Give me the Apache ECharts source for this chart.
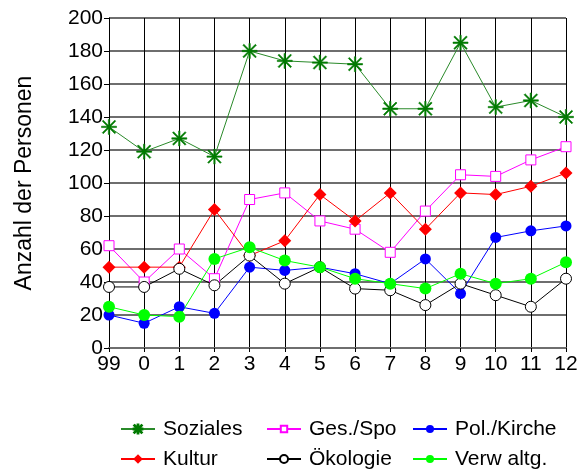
<!DOCTYPE html>
<html>
<head>
<meta charset="utf-8">
<script src="https://cdn.jsdelivr.net/npm/echarts@6/dist/echarts.min.js"></script>
<style>
  html, body { margin: 0; padding: 0; background: #fff; }
  #chart { width: 588px; height: 470px; }
</style>
</head>
<body>
<div id="chart"></div>
<script>
// Survey years (two-digit) on the x axis
const years = ['99', '0', '1', '2', '3', '4', '5', '6', '7', '8', '9', '10', '11', '12'];

// Number of persons per field of engagement
const soziales   = [134, 119, 127, 116, 180, 174, 173, 172, 145, 145, 185, 146, 150, 140];
const gesSpo     = [62, 40, 60, 42, 90, 94, 77, 72, 58, 83, 105, 104, 114, 122];
const polKirche  = [20, 15, 25, 21, 49, 47, 49, 45, 39, 54, 33, 67, 71, 74];
const kultur     = [49, 49, 49, 84, 56, 65, 93, 77, 94, 72, 94, 93, 98, 106];
const oekologie  = [37, 37, 48, 38, 56, 39, 49, 36, 35, 26, 39, 32, 25, 42];
const verwaltung = [25, 20, 19, 54, 61, 53, 49, 42, 39, 36, 45, 39, 42, 52];

const yTicks = { min: 0, max: 200, step: 20 };

const FONT = 'Liberation Sans, Arial, sans-serif';

// Asterisk marker built from four thin bars
const asterisk = 'path://M0 9.1L20 9.1L20 10.9L0 10.9Z M9.1 0L10.9 0L10.9 20L9.1 20Z ' +
  'M2.3 1L19 17.7L17.7 19L1 2.3Z M17.7 1L19 2.3L2.3 19L1 17.7Z';

function lineSeries(name, data, color, symbol, size, hollow, lineColor) {
  return {
    name: name,
    type: 'line',
    data: data,
    symbol: symbol,
    symbolSize: size,
    showAllSymbol: true,
    lineStyle: { color: lineColor || color, width: 1 },
    itemStyle: hollow
      ? { color: '#fff', borderColor: color, borderWidth: 1 }
      : { color: color, borderColor: color, borderWidth: symbol === asterisk ? 0.6 : 0 },
    emphasis: { disabled: true },
    animation: false
  };
}

const series = [
  lineSeries('Soziales', soziales, '#007a00', asterisk, 15, false, '#2a8a2a'),
  lineSeries('Ges./Spo', gesSpo, '#ff00ff', 'rect', 10, true),
  lineSeries('Pol./Kirche', polKirche, '#0000ff', 'circle', 11, false),
  lineSeries('Kultur', kultur, '#ff0000', 'diamond', 13, false),
  lineSeries('Ökologie', oekologie, '#000000', 'circle', 11, true),
  lineSeries('Verw altg.', verwaltung, '#00ff00', 'circle', 12, false)
];

// One legend entry per block, laid out as three columns of two rows
function legendItem(left, top, name, markSize) {
  return {
    left: left,
    top: top,
    itemWidth: 34,
    itemHeight: markSize,
    data: [name],
    selectedMode: false,
    textStyle: { fontFamily: FONT, fontSize: 21, color: '#000', padding: [0, 0, 0, 3], height: 24, lineHeight: 24 }
  };
}

const chart = echarts.init(document.getElementById('chart'), null, { renderer: 'canvas' });
chart.setOption({
  backgroundColor: '#fff',
  animation: false,
  grid: { left: 109, right: 22, top: 18, bottom: 122, containLabel: false },
  legend: [
    legendItem(115, 412, 'Soziales', 11),
    legendItem(115, 442, 'Kultur', 12),
    legendItem(261, 412, 'Ges./Spo', 8),
    legendItem(261, 442, 'Ökologie', 10),
    legendItem(407, 412, 'Pol./Kirche', 10),
    legendItem(407, 442, 'Verw altg.', 10)
  ],
  xAxis: {
    type: 'category',
    data: years,
    boundaryGap: false,
    axisLine: { show: true, lineStyle: { color: '#6e6e6e', width: 2 } },
    axisTick: { show: true, length: 4, lineStyle: { color: '#000', width: 1 } },
    axisLabel: { fontFamily: FONT, fontSize: 21, color: '#000', margin: 6 },
    splitLine: { show: true, lineStyle: { color: '#000', width: 1 } }
  },
  yAxis: {
    type: 'value',
    min: yTicks.min,
    max: yTicks.max,
    interval: yTicks.step,
    name: 'Anzahl der Personen',
    nameLocation: 'middle',
    nameGap: 73,
    nameTextStyle: { fontFamily: FONT, fontSize: 23, color: '#000' },
    axisLine: { show: true, lineStyle: { color: '#000', width: 1 } },
    axisTick: { show: true, length: 5, lineStyle: { color: '#000', width: 1 } },
    axisLabel: { fontFamily: FONT, fontSize: 21, color: '#000', margin: 6 },
    splitLine: { show: true, lineStyle: { color: '#6e6e6e', width: 2 } }
  },
  series: series
});
</script>
</body>
</html>
